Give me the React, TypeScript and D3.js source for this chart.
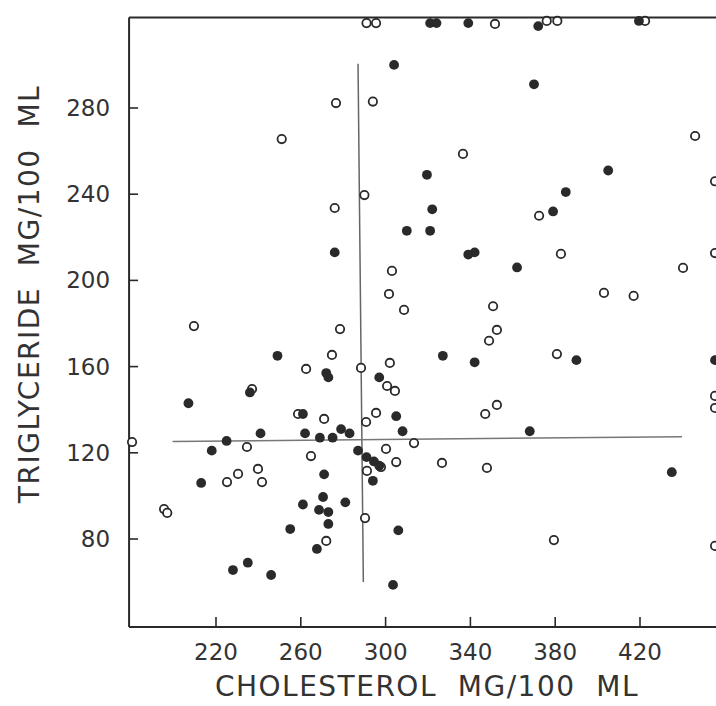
import React from "react";
import * as d3 from "d3";

// [cholesterol, triglyceride]
const filledPoints: [number, number][] = [
  [304, 300], [310, 223], [276, 213], [319.5, 249], [322, 233], [321, 223], [370, 291],
  [405, 251], [385, 241], [379, 232], [339, 212], [342, 213], [362, 206], [327, 165],
  [342, 162], [390, 163], [455.4, 163], [368, 130], [435, 111], [249, 165], [272, 157],
  [273, 155], [297, 155], [236, 148], [207, 143], [261, 138], [305, 137], [308, 130],
  [241, 129], [262, 129], [269, 127], [275, 127], [279, 131], [283, 129], [225, 125.5],
  [218, 121], [287, 121], [291, 118], [294.5, 116], [297, 114], [294, 107], [271, 110],
  [213, 106], [270.5, 99.5], [261, 96], [281, 97], [268.6, 93.5], [273, 92.5], [273, 87],
  [255, 84.6], [306, 84], [267.6, 75.4], [228, 65.6], [235, 69], [246, 63.3], [303.5, 58.7],
  [321, 319.4], [324, 319.4], [339, 319.4], [372, 318], [419.5, 320.4],
];

const openPoints: [number, number][] = [
  [291, 319.4], [295.5, 319.4], [351.6, 319], [376, 320.4], [381, 320.4], [422.4, 320.4],
  [276.6, 282.3], [294, 283], [251, 265.6], [276, 233.6], [290, 239.6], [446, 267],
  [336.5, 258.7], [455.4, 246], [372.4, 230], [382.7, 212.3], [455.4, 212.7], [440.3, 205.8],
  [403, 194.2], [417, 192.8], [350.7, 188], [352.5, 177], [348.8, 172], [380.8, 165.8],
  [455.4, 146.4], [455.4, 140.8], [352.5, 142.2], [347, 138], [326.6, 115.3], [347.8, 113],
  [379.4, 79.5], [455.4, 76.8], [303, 204.4], [301.6, 193.7], [308.7, 186.3], [209.6, 178.8],
  [278.5, 177.4], [274.7, 165.4], [262.5, 158.9], [288.4, 159.4], [302, 161.7], [300.7, 151],
  [304.4, 148.7], [237, 149.6], [258.7, 138], [271, 135.7], [295.5, 138.5], [290.8, 134.3],
  [180.4, 125], [234.6, 122.7], [300.2, 121.8], [313.4, 124.5], [264.8, 118.5], [305, 115.7],
  [297.8, 113.4], [291.2, 111.6], [225.2, 106.4], [230.4, 110.2], [239.8, 112.5], [241.7, 106.4],
  [195.5, 93.9], [197, 92.1], [290.3, 89.7], [272, 79.1],
];

const xTicks = [220, 260, 300, 340, 380, 420];
const yTicks = [80, 120, 160, 200, 240, 280];

// mean lines (data units): [x1, y1, x2, y2]
const meanCholLine = [287, 300.5, 289.5, 60];
const meanTrigLine = [199.5, 125.2, 439.8, 127.5];

const xDomainFrame = [179, 460];
const yDomainFrame = [39.2, 322];

const xTitle = "CHOLESTEROL  MG/100  ML";
const yTitle = "TRIGLYCERIDE  MG/100  ML";

export default function App() {
  const W = 716;
  const H = 706;
  const x = d3.scaleLinear().domain([220, 420]).range([216, 640]);
  const y = d3.scaleLinear().domain([80, 280]).range([539, 108]);
  const left = x(xDomainFrame[0]);
  const right = x(xDomainFrame[1]);
  const top = y(yDomainFrame[1]);
  const bottom = y(yDomainFrame[0]);
  const ink = "#2a2a2a";
  const font = "'DejaVu Sans', sans-serif";
  const r = 4.9;

  return (
    <svg
      width={W}
      height={H}
      style={{ position: "absolute", left: 0, top: 0, background: "#fff" }}
    >
      {/* frame */}
      <line x1={left} y1={top} x2={right} y2={top} stroke={ink} strokeWidth={2} />
      <line x1={left} y1={top} x2={left} y2={bottom} stroke={ink} strokeWidth={2} />
      <line x1={left} y1={bottom} x2={right} y2={bottom} stroke={ink} strokeWidth={2} />

      {/* ticks */}
      {xTicks.map((t) => (
        <g key={"xt" + t}>
          <line x1={x(t)} x2={x(t)} y1={bottom} y2={bottom - 10} stroke={ink} strokeWidth={1.6} />
          <text
            x={x(t)}
            y={bottom + 33}
            textAnchor="middle"
            fontFamily={font}
            fontSize={23}
            fill="#333"
          >
            {t}
          </text>
        </g>
      ))}
      {yTicks.map((t) => (
        <g key={"yt" + t}>
          <line x1={left} x2={left + 9} y1={y(t)} y2={y(t)} stroke={ink} strokeWidth={1.6} />
          <text
            x={left - 19}
            y={y(t) + 8}
            textAnchor="end"
            fontFamily={font}
            fontSize={23}
            fill="#333"
          >
            {t}
          </text>
        </g>
      ))}

      {/* mean lines */}
      <line
        x1={x(meanCholLine[0])}
        y1={y(meanCholLine[1])}
        x2={x(meanCholLine[2])}
        y2={y(meanCholLine[3])}
        stroke="#666"
        strokeWidth={1.5}
      />
      <line
        x1={x(meanTrigLine[0])}
        y1={y(meanTrigLine[1])}
        x2={x(meanTrigLine[2])}
        y2={y(meanTrigLine[3])}
        stroke="#777"
        strokeWidth={1.5}
      />

      {/* points */}
      {openPoints.map((p, i) => (
        <circle
          key={"o" + i}
          cx={x(p[0])}
          cy={y(p[1])}
          r={r - 0.7}
          fill="#fff"
          stroke={ink}
          strokeWidth={1.8}
        />
      ))}
      {filledPoints.map((p, i) => (
        <circle key={"f" + i} cx={x(p[0])} cy={y(p[1])} r={r} fill={ink} />
      ))}

      {/* titles */}
      <text
        x={427}
        y={696}
        textAnchor="middle"
        fontFamily={font}
        fontSize={28}
        letterSpacing={1.5}
        fill="#333"
        style={{ whiteSpace: "pre" }}
      >
        {xTitle}
      </text>
      <text
        transform={`translate(39, 294) rotate(-90)`}
        textAnchor="middle"
        fontFamily={font}
        fontSize={28}
        letterSpacing={1.5}
        fill="#333"
        style={{ whiteSpace: "pre" }}
      >
        {yTitle}
      </text>
    </svg>
  );
}
